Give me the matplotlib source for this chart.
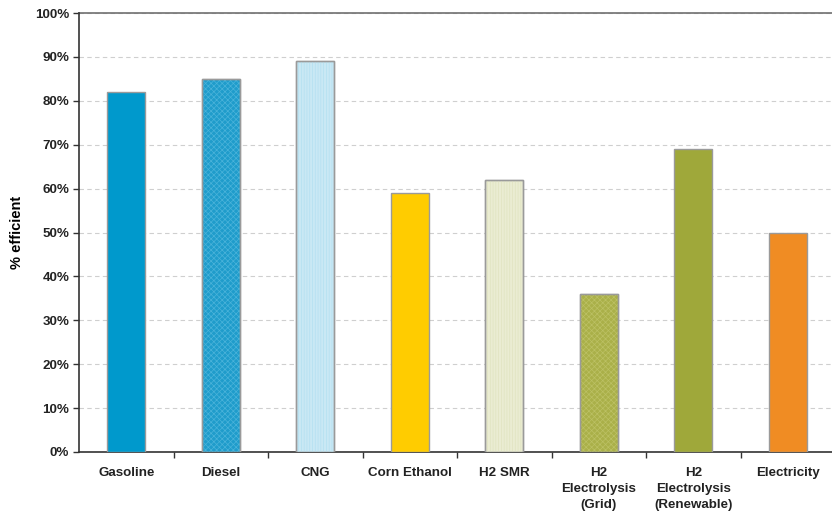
import numpy as np
import matplotlib
matplotlib.use("Agg")
import matplotlib.pyplot as plt
from matplotlib.ticker import MultipleLocator, PercentFormatter

plt.rcParams.update({"font.family": ["Liberation Sans", "DejaVu Sans"],
                     "font.size": 9, "font.weight": "bold",
                     "hatch.linewidth": 0.5, "text.color": "#222222"})

fuels = ["Gasoline", "Diesel", "CNG", "Corn Ethanol", "H2 SMR",
         "H2\nElectrolysis\n(Grid)", "H2\nElectrolysis\n(Renewable)", "Electricity"]
efficiency = [82, 85, 89, 59, 62, 36, 69, 50]

face = ["#0099cc", "#1f9ccb", "#c9e8f4", "#ffcc00", "#eaecd2", "#aab049", "#9fa83a", "#f08c23"]
hatch = [None, "xxxxxx", "||||||", None, "||||||", "xxxxxx", None, None]
hcol = [None, "#4ab3da", "#b3e0f1", None, "#e0e3c0", "#bcc164", None, None]

fig = plt.figure(figsize=(8.32, 5.13), dpi=100)
ax = fig.add_axes([79 / 832, 1 - 452 / 513, 756 / 832, (452 - 13) / 513])

x = np.arange(len(fuels))
for i in range(len(fuels)):
    ax.bar(x[i], efficiency[i], width=0.4, color=face[i], edgecolor="#9a9a9a",
           linewidth=1.0, zorder=3)
    if hatch[i]:
        # pattern overlay, then redraw the outline on top
        ax.bar(x[i], efficiency[i], width=0.4, color="none", edgecolor=hcol[i],
               hatch=hatch[i], linewidth=0, zorder=4)
        ax.bar(x[i], efficiency[i], width=0.4, color="none", edgecolor="#9a9a9a",
               linewidth=1.0, zorder=5)

ax.set_xlim(-0.5, len(fuels) - 0.5)
ax.set_ylim(0, 100)
ax.yaxis.set_major_locator(MultipleLocator(10))
ax.yaxis.set_major_formatter(PercentFormatter(decimals=0))
ax.grid(axis="y", color="#cfcfcf", linestyle=(0, (4, 3)), linewidth=0.8, zorder=0)
ax.axhline(100, color="#707070", linewidth=1.2, zorder=2, clip_on=False)

ax.set_xticks(x)
ax.set_xticklabels(fuels, fontweight="bold", fontsize=9.6, linespacing=1.45)
ax.set_xticks(np.arange(len(fuels)) + 0.5, minor=True)
ax.tick_params(axis="x", which="major", length=0, pad=11, labelcolor="#222222")
ax.tick_params(axis="x", which="minor", length=4, width=1, color="#333333", direction="out")
ax.tick_params(axis="y", length=4, width=1, color="#333333", labelsize=9.6, pad=3,
               labelcolor="#222222")
for lbl in ax.get_yticklabels():
    lbl.set_fontweight("bold")

for s in ["top", "right"]:
    ax.spines[s].set_visible(False)
ax.spines["left"].set_color("#333333")
ax.spines["bottom"].set_color("#333333")
ax.spines["left"].set_linewidth(1.2)
ax.spines["bottom"].set_linewidth(1.2)

ax.set_ylabel("% efficient", fontweight="bold", fontsize=10.5, labelpad=8)

fig.savefig("out.png", dpi=100)
